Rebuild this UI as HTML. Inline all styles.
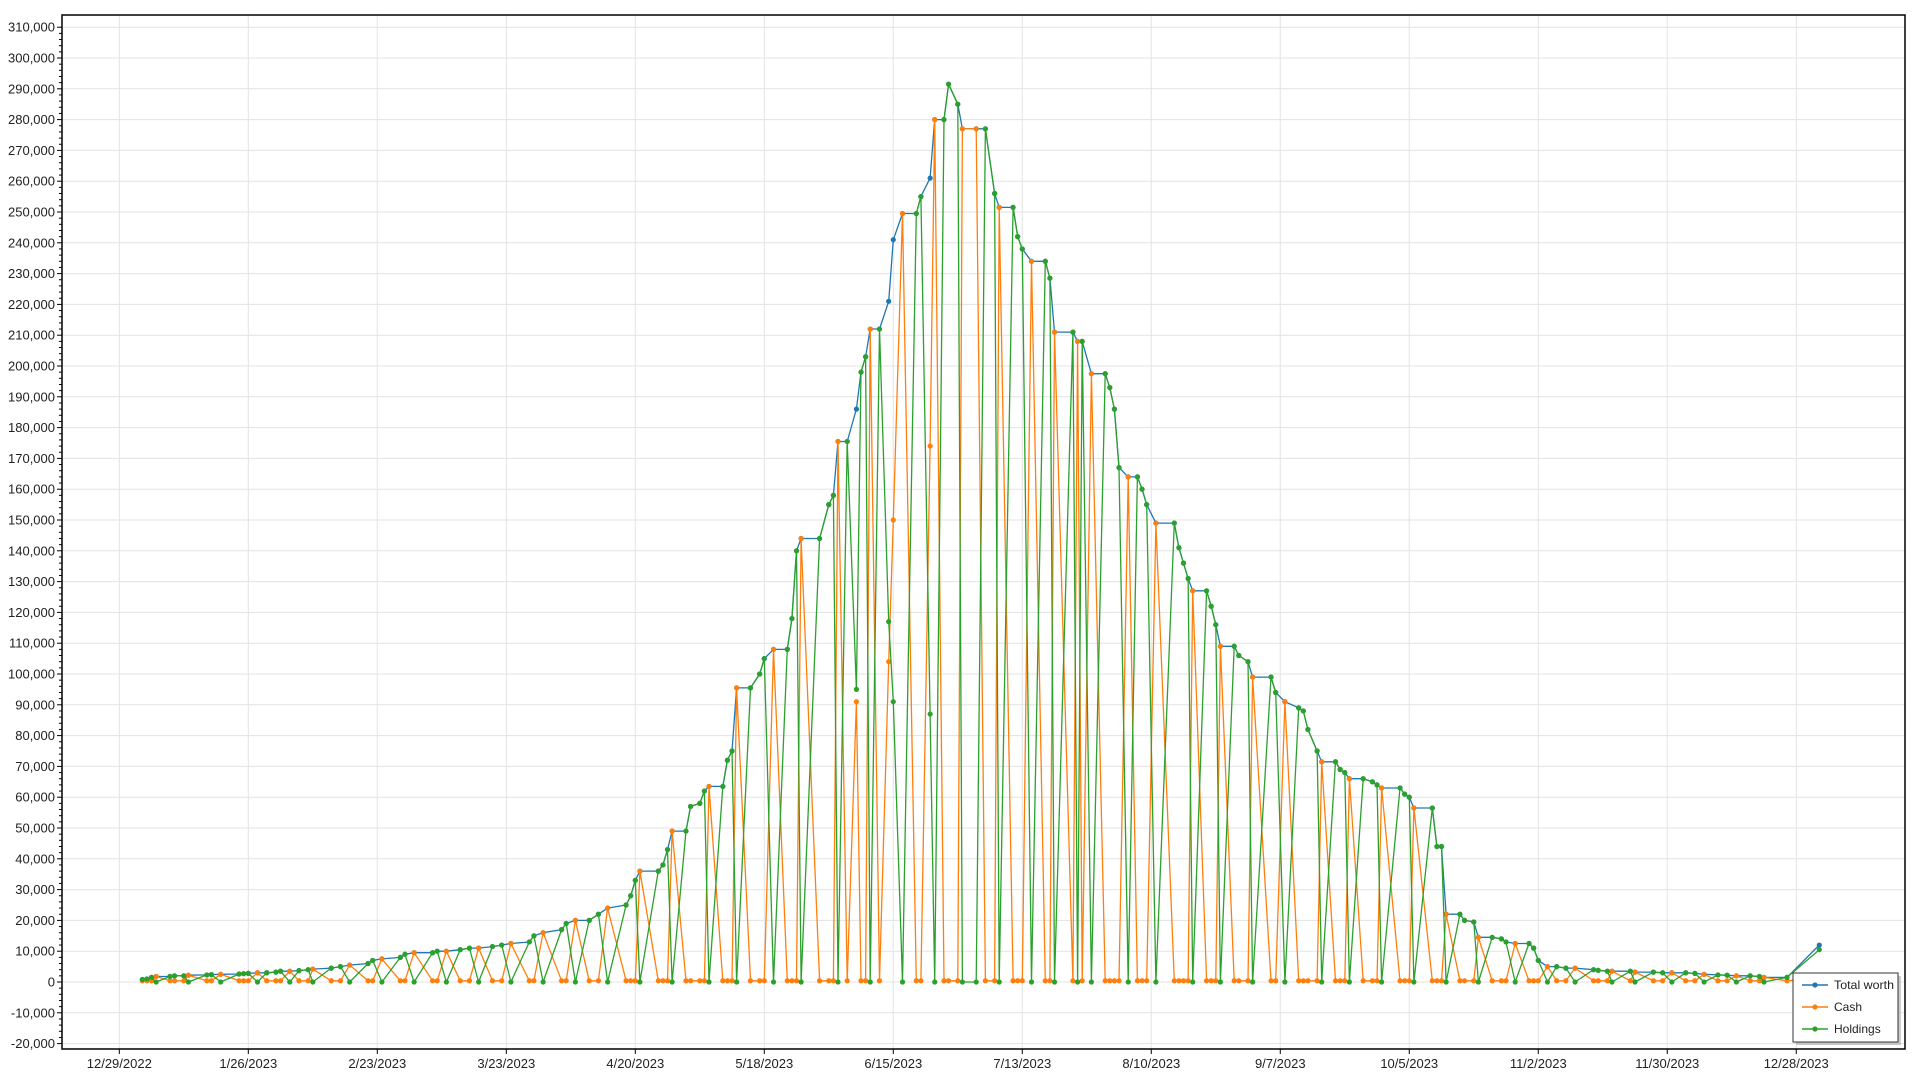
<!DOCTYPE html>
<html>
<head>
<meta charset="utf-8">
<style>
html,body{margin:0;padding:0;background:#fff;}
svg{display:block;font-family:"Liberation Sans","DejaVu Sans",sans-serif;}
</style>
</head>
<body>
<svg id="chart" width="1920" height="1080" viewBox="0 0 1920 1080" xmlns="http://www.w3.org/2000/svg">
  <rect x="0" y="0" width="1920" height="1080" fill="#fff"/>
  <g id="grid"></g>
  <g id="yaxis"></g>
  <g id="xaxis"></g>
  <g id="series"></g>
  <rect x="62" y="15" width="1843" height="1034" fill="none" stroke="#000" stroke-width="1.5"/>
  <g id="legend">
    <rect x="1796" y="976" width="105" height="69" fill="#999" opacity="0.5"/>
    <rect x="1793" y="973" width="105" height="69" fill="#fff" stroke="#333" stroke-width="1"/>
    <g>
      <line x1="1802" y1="985" x2="1828" y2="985" stroke="#1f77b4" stroke-width="1.5"/>
      <circle cx="1815" cy="985" r="2.6" fill="#1f77b4"/>
      <text x="1834" y="989" font-size="12" fill="#222" textLength="60" lengthAdjust="spacingAndGlyphs">Total worth</text>
    </g>
    <g>
      <line x1="1802" y1="1007" x2="1828" y2="1007" stroke="#ff7f0e" stroke-width="1.5"/>
      <circle cx="1815" cy="1007" r="2.6" fill="#ff7f0e"/>
      <text x="1834" y="1011" font-size="12" fill="#222">Cash</text>
    </g>
    <g>
      <line x1="1802" y1="1029" x2="1828" y2="1029" stroke="#2ca02c" stroke-width="1.5"/>
      <circle cx="1815" cy="1029" r="2.6" fill="#2ca02c"/>
      <text x="1834" y="1033" font-size="12" fill="#222">Holdings</text>
    </g>
  </g>
</svg>
<script>
// Values in thousands; days since 12/29/2022
const days = [5,6,7,8,11,12,14,15,19,20,
22,26,27,28,30,32,34,35,37,39,
41,42,46,48,50,54,55,57,61,62,
64,68,69,71,74,76,78,81,83,85,
89,90,92,96,97,99,102,104,106,110,
111,112,113,117,118,119,120,123,124,126,
127,128,131,132,133,134,137,139,140,142,
145,146,147,148,152,154,155,156,158,160,
161,162,163,165,167,168,170,173,174,176,
177,179,180,182,183,186,188,190,191,194,
195,196,198,201,202,203,207,208,209,211,
214,215,216,217,219,221,222,223,225,229,
230,231,232,233,236,237,238,239,242,243,
245,246,250,251,253,256,257,258,260,261,
264,265,266,267,270,272,273,274,278,279,
280,281,285,286,287,288,291,292,294,295,
298,300,301,303,306,307,308,310,312,314,
316,320,321,323,324,328,329,333,335,337,
340,342,344,347,349,351,354,356,357,362,
369];
const totalWorth = [0.8,1,1.5,1.8,1.8,2,2,2.2,2.3,2.4,
2.5,2.6,2.7,2.8,3,3,3.2,3.5,3.5,3.7,
4,4.2,4.5,5,5.5,6,7,7.5,8,9,
9.5,9.5,10,10,10.5,11,11,11.5,12,12.5,
13,15,16,17,19,20,20,22,24,25,
28,33,36,36,38,43,49,49,57,58,
62,63.5,63.5,72,75,95.5,95.5,100,105,108,
108,118,140,144,144,155,158,175.5,175.5,186,
198,203,212,212,221,241,249.5,249.5,255,261,
280,280,291.5,285,277,277,277,256,251.5,251.5,
242,238,234,234,228.5,211,211,208,208,197.5,
197.5,193,186,167,164,164,160,155,149,149,
141,136,131,127,127,122,116,109,109,106,
104,99,99,94,91,89,88,82,75,71.5,
71.5,69,68,66,66,65,64,63,63,61,
60,56.5,56.5,44,44,22,22,20,19.5,14.5,
14.5,14,13,12.5,12.5,11,7,5,5,4.5,
4.5,4,3.8,3.5,3.5,3.5,3.2,3.2,3,3,
3,2.8,2.5,2.3,2.2,2,2,1.8,1.5,1.5,
12];
const cash = [.4,.4,.4,1.8,.4,.4,.4,2.2,.4,.4,
2.5,.4,.4,.4,3,.4,.4,.4,3.5,.4,
.4,4.2,.4,.4,5.5,.4,.4,7.5,.4,.4,
9.5,.4,.4,10,.4,.4,11,.4,.4,12.5,
.4,.4,16,.4,.4,20,.4,.4,24,.4,
.4,.4,36,.4,.4,.4,49,.4,.4,.4,
.4,63.5,.4,.4,.4,95.5,.4,.4,.4,108,
.4,.4,.4,144,.4,.4,.4,175.5,.4,91,
.4,.4,212,.4,104,150,249.5,.4,.4,174,
280,.4,.4,.4,277,277,.4,.4,251.5,.4,
.4,.4,234,.4,.4,211,.4,208,.4,197.5,
.4,.4,.4,.4,164,.4,.4,.4,149,.4,
.4,.4,.4,127,.4,.4,.4,109,.4,.4,
.4,99,.4,.4,91,.4,.4,.4,.4,71.5,
.4,.4,.4,66,.4,.4,.4,63,.4,.4,
.4,56.5,.4,.4,.4,22,.4,.4,.4,14.5,
.4,.4,.4,12.5,.4,.4,.4,5,.4,.4,
4.5,.4,.4,.4,3.5,.4,3.2,.4,.4,3,
.4,.4,2.5,.4,.4,2,.4,.4,1.5,.4,
1.5];
const holdings = [.8,1,1.5,0,1.8,2,2,0,2.3,2.4,
0,2.6,2.7,2.8,0,3,3.2,3.5,0,3.7,
4,0,4.5,5,0,6,7,0,8,9,
0,9.5,10,0,10.5,11,0,11.5,12,0,
13,15,0,17,19,0,20,22,0,25,
28,33,0,36,38,43,0,49,57,58,
62,0,63.5,72,75,0,95.5,100,105,0,
108,118,140,0,144,155,158,0,175.5,95,
198,203,0,212,117,91,0,249.5,255,87,
0,280,291.5,285,0,0,277,256,0,251.5,
242,238,0,234,228.5,0,211,0,208,0,
197.5,193,186,167,0,164,160,155,0,149,
141,136,131,0,127,122,116,0,109,106,
104,0,99,94,0,89,88,82,75,0,
71.5,69,68,0,66,65,64,0,63,61,
60,0,56.5,44,44,0,22,20,19.5,0,
14.5,14,13,0,12.5,11,7,0,5,4.5,
0,4,3.8,3.5,0,3.5,0,3.2,3,0,
3,2.8,0,2.3,2.2,0,2,1.8,0,1.5,
10.5];
const xTickDays = [0,28,56,84,112,140,168,196,224,252,280,308,336,364];
const xTickLabels = ["12/29/2022","1/26/2023","2/23/2023","3/23/2023","4/20/2023","5/18/2023","6/15/2023","7/13/2023","8/10/2023","9/7/2023","10/5/2023","11/2/2023","11/30/2023","12/28/2023"];
const yTicks = [-20,-10,0,10,20,30,40,50,60,70,80,90,100,110,120,130,140,150,160,170,180,190,200,210,220,230,240,250,260,270,280,290,300,310];

const NS = "http://www.w3.org/2000/svg";
const PL = 62, PR = 1905, PT = 15, PB = 1049;
function xS(d){ return 119.3 + d * 4.607; }
function yS(k){ return 982 - k * 3.08; }
function mk(tag, attrs, parent){
  const e = document.createElementNS(NS, tag);
  for (const k in attrs) e.setAttribute(k, attrs[k]);
  parent.appendChild(e);
  return e;
}
const grid = document.getElementById('grid');
const yaxis = document.getElementById('yaxis');
const xaxis = document.getElementById('xaxis');
const series = document.getElementById('series');

yTicks.forEach(function(v){
  const y = yS(v);
  const g = mk('line', {x1:PL, x2:PR, y1:y, y2:y, stroke:'#e3e3e3', 'stroke-width':1}, grid);
  
  
  const t = mk('line', {x1:PL-5, x2:PL, y1:y, y2:y, stroke:'#000', 'stroke-width':1}, yaxis);
  
  
  const lab = mk('text', {x:PL-7, y:y+4.5, 'text-anchor':'end', 'font-size':13, fill:'#222'}, yaxis);
  lab.textContent = (v*1000).toLocaleString('en-US');
  
  
});
for (let v = -20; v <= 310; v += 2) {
  if (v % 10 === 0) continue;
  const y = yS(v);
  const m = mk('line', {x1:PL-3, x2:PL, y1:y, y2:y, stroke:'#000', 'stroke-width':1}, yaxis);
  
  
}
xTickDays.forEach(function(d, i){
  const x = xS(d);
  const g = mk('line', {x1:x, x2:x, y1:PT, y2:PB, stroke:'#e3e3e3', 'stroke-width':1}, grid);
  
  
  const t = mk('line', {x1:x, x2:x, y1:PB, y2:PB+5, stroke:'#000', 'stroke-width':1}, xaxis);
  
  
  const lab = mk('text', {x:x, y:PB+19, 'text-anchor':'middle', 'font-size':13, fill:'#222'}, xaxis);
  lab.textContent = xTickLabels[i];
  
  
});

function drawSeries(vals, color, name){
  const g = mk('g', {}, series);
  
  
  const pts = days.map(function(d, i){ return xS(d).toFixed(1) + ',' + yS(vals[i]).toFixed(1); }).join(' ');
  const pl = mk('polyline', {points:pts, fill:'none', stroke:color, 'stroke-width':1.3, 'stroke-linejoin':'round'}, g);
  
  
  days.forEach(function(d, i){
    const c = mk('circle', {cx:xS(d), cy:yS(vals[i]), r:2.6, fill:color}, g);
    
    
  });
}
drawSeries(totalWorth, '#1f77b4', 'total-worth');
drawSeries(cash, '#ff7f0e', 'cash');
drawSeries(holdings, '#2ca02c', 'holdings');
</script>
</body>
</html>
